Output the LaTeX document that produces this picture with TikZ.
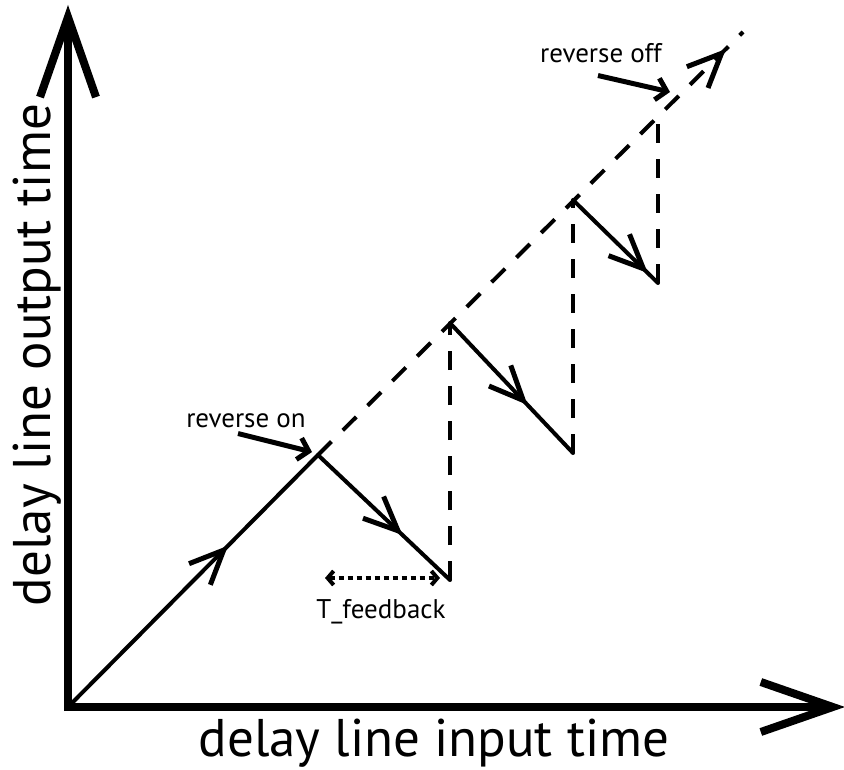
\documentclass[tikz,border=0pt]{standalone}
\usepackage{fontspec}
\setmainfont{PT Sans}
\usetikzlibrary{positioning,arrows.meta,decorations.markings}

\tikzset{
  axis/.style={line width=8pt},
  trace/.style={line width=4pt,line cap=round},
  jump/.style={line width=4pt,dash pattern=on 19pt off 16pt},
  midarrow/.style={postaction={decorate},decoration={markings,
      mark=at position #1 with {\arrow[line width=5pt]{Straight Barb[length=34pt,width=30pt]}}}},
  pointer/.style={line width=5pt,-{Straight Barb[length=10pt,width=22pt]}},
  gap/.style={line width=4pt,dash pattern=on 5pt off 4pt,
      {Straight Barb[length=6pt,width=14pt]}-{Straight Barb[length=6pt,width=14pt]}},
  biglabel/.style={font=\fontsize{53}{58}\selectfont,inner sep=0pt},
  smalllabel/.style={font=\fontsize{27}{30}\selectfont,inner sep=0pt}
}

\begin{document}
\begin{tikzpicture}[x=1pt,y=-1pt]
  \useasboundingbox (0,0) rectangle (844,770);

  % axes
  \coordinate (o)    at (68,707);
  \coordinate (xend) at (845,707);
  \coordinate (yend) at (68,5);
  \draw[axis,-{Straight Barb[length=72pt,width=50pt]}] ([xshift=-4pt]o) -- (xend);
  \draw[axis,-{Straight Barb[length=80pt,width=56pt]}] ([yshift=-4pt]o) -- (yend);

  % corners of the saw tooth
  \coordinate (p)  at (318,455);
  \coordinate (a1) at (450,580);
  \coordinate (b1) at (450,323);
  \coordinate (a2) at (573,453);
  \coordinate (b2) at (573,200);
  \coordinate (a3) at (658,283);
  \coordinate (b3) at (658,115);
  \coordinate (e)  at (743,32);

  \draw[trace,midarrow=0.64] (o) -- (p);
  \draw[trace,midarrow=0.64] (p) -- (a1);
  \draw[trace,midarrow=0.63] (b1) -- (a2);
  \draw[trace,midarrow=0.88] (b2) -- (a3);

  \draw[jump,midarrow=0.96] (p) -- (e);
  \draw[jump] (a1) -- (b1);
  \draw[jump] (a2) -- (b2);
  \draw[jump] (a3) -- (b3);

  % labels
  \node[biglabel,anchor=base] (xlab) at (434,756) {delay line input time};
  \node[biglabel,anchor=base,rotate=90] (ylab) at (50,355) {delay line output time};

  \node[smalllabel,anchor=base] (ron)  at (246,427) {reverse on};
  \node[smalllabel,anchor=base] (roff) at (601,63) {reverse off};
  \draw[pointer] ([shift={(-8pt,-6pt)}]ron.south) -- ([shift={(-6pt,3pt)}]p);
  \draw[pointer] ([shift={(-3pt,-12pt)}]roff.south) -- ([shift={(12pt,23pt)}]b3);

  \node[smalllabel,anchor=base] (fb) at (381,618) {T\_feedback};
  \coordinate (g1) at (325,578);
  \coordinate (g2) at (440,578);
  \draw[gap] (g1) -- (g2);
\end{tikzpicture}
\end{document}
